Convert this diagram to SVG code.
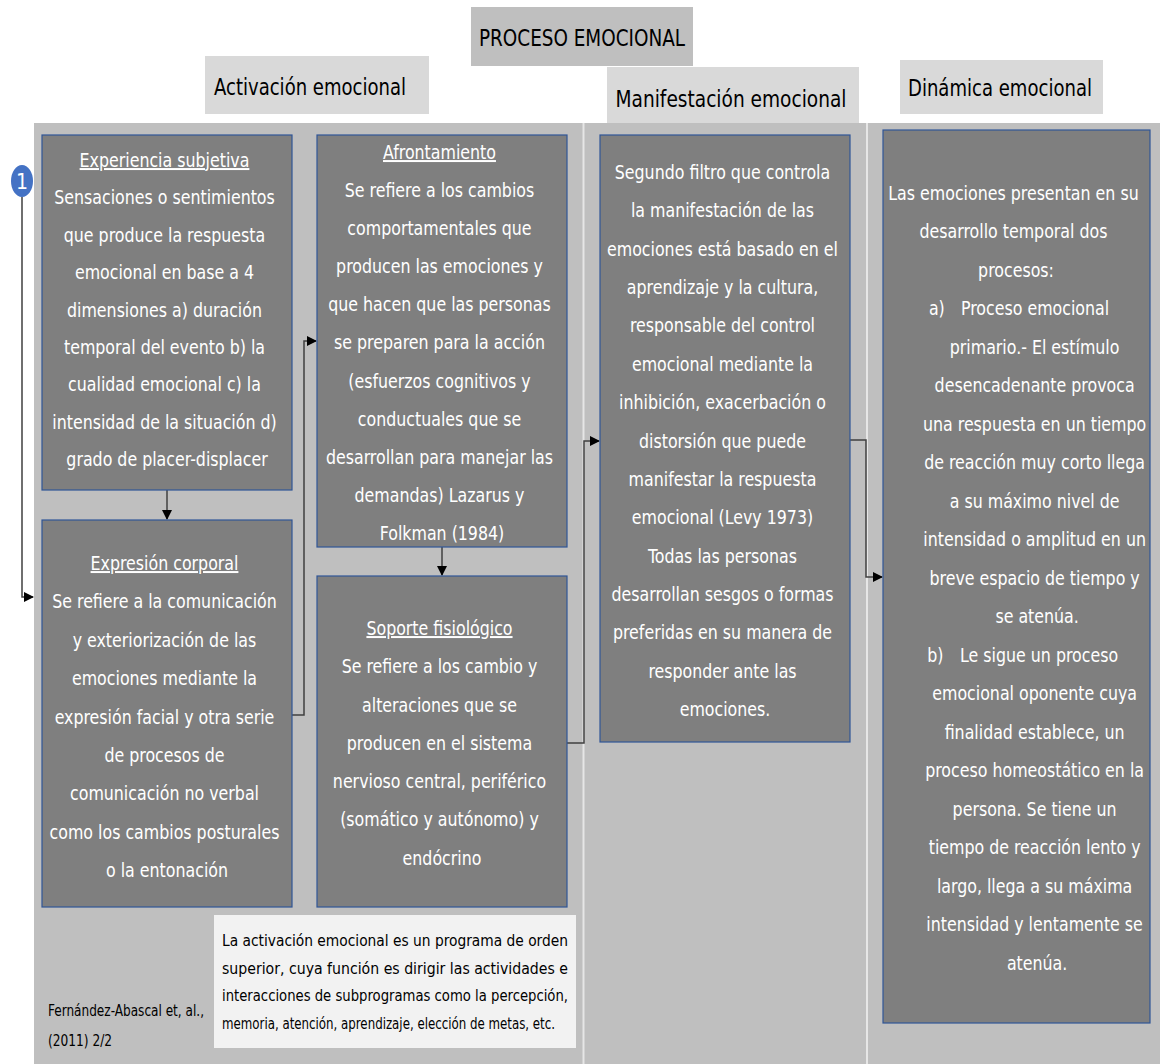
<svg xmlns="http://www.w3.org/2000/svg" width="1160" height="1064" viewBox="0 0 1160 1064">
<defs>
<style>
.hdr{font-family:"DejaVu Sans Condensed","Liberation Sans",sans-serif;font-size:23px;fill:#000;text-anchor:middle}
.box{fill:#7f7f7f;stroke:#2f5597;stroke-width:1.2}
.bt{font-family:"DejaVu Sans Condensed","Liberation Sans",sans-serif;font-size:20px;fill:#fff;text-anchor:middle}
.st{text-anchor:start}
.sm{font-family:"DejaVu Sans Condensed","Liberation Sans",sans-serif;font-size:16px;fill:#000}
.u{text-decoration:underline}
.con{fill:none;stroke:#404040;stroke-width:1.5}
</style>
<marker id="ah" markerWidth="10" markerHeight="10" refX="9" refY="5" orient="auto" markerUnits="userSpaceOnUse">
<path d="M0,0 L10,5 L0,10 Z" fill="#000"/>
</marker>
</defs>
<rect width="1160" height="1064" fill="#fff"/>
<g id="panel">
<rect x="34" y="123" width="1126" height="941" fill="#bfbfbf"/>
<rect x="582.5" y="123" width="2" height="941" fill="#e6e6e6"/>
<rect x="866" y="123" width="2" height="941" fill="#e6e6e6"/>
</g>
<g id="title">
<rect x="471" y="7" width="222" height="59" fill="#bfbfbf"/>
<text class="hdr" x="582" y="46" textLength="206" lengthAdjust="spacingAndGlyphs">PROCESO EMOCIONAL</text>
</g>
<g id="h-activacion">
<rect x="205" y="56" width="224" height="58" fill="#d9d9d9"/>
<text class="hdr" x="310" y="95" font-size="24" textLength="192" lengthAdjust="spacingAndGlyphs">Activación emocional</text>
</g>
<g id="h-manifestacion">
<rect x="607" y="67" width="252" height="56" fill="#d9d9d9"/>
<text class="hdr" x="731" y="107" font-size="24" textLength="231" lengthAdjust="spacingAndGlyphs">Manifestación emocional</text>
</g>
<g id="h-dinamica">
<rect x="900" y="60" width="203" height="54" fill="#d9d9d9"/>
<text class="hdr" x="1000" y="96" font-size="24" textLength="184" lengthAdjust="spacingAndGlyphs">Dinámica emocional</text>
</g>
<g id="connectors">
<path class="con" d="M22,197 V597 H33" stroke="#808080" marker-end="url(#ah)"/>
<path class="con" d="M167,490 V519" marker-end="url(#ah)"/>
<path class="con" d="M292,715 H304 V341 H316" marker-end="url(#ah)"/>
<path class="con" d="M442,547 V575" marker-end="url(#ah)"/>
<path class="con" d="M567,743 H584 V441 H599" marker-end="url(#ah)"/>
<path class="con" d="M850,440 H866 V577 H882" marker-end="url(#ah)"/>
</g>
<g id="marker-1">
<ellipse cx="22" cy="181" rx="11" ry="16" fill="#4472c4"/>
<text x="22" y="189" font-family="DejaVu Sans Condensed,Liberation Sans,sans-serif" font-size="21" fill="#fff" text-anchor="middle">1</text>
</g>
<g id="n-experiencia">
<rect class="box" x="42" y="135" width="250" height="355"/>
<text class="bt" transform="translate(167,0) scale(0.88,1)" y="167">
<tspan x="0" class="u">Experiencia subjetiva</tspan>
<tspan x="0" dy="37.4">Sensaciones o sentimientos</tspan>
<tspan x="0" dy="37.4">que produce la respuesta</tspan>
<tspan x="0" dy="37.4">emocional en base a 4</tspan>
<tspan x="0" dy="37.4">dimensiones a) duración</tspan>
<tspan x="0" dy="37.4">temporal del evento b) la</tspan>
<tspan x="0" dy="37.4">cualidad emocional c) la</tspan>
<tspan x="0" dy="37.4">intensidad de la situación d)</tspan>
<tspan x="0" dy="37.4">grado de placer-displacer</tspan>
</text>
</g>
<g id="n-expresion">
<rect class="box" x="42" y="520" width="250" height="387"/>
<text class="bt" transform="translate(167,0) scale(0.88,1)" y="570">
<tspan x="0" class="u">Expresión corporal</tspan>
<tspan x="0" dy="38.4">Se refiere a la comunicación</tspan>
<tspan x="0" dy="38.4">y exteriorización de las</tspan>
<tspan x="0" dy="38.4">emociones mediante la</tspan>
<tspan x="0" dy="38.4">expresión facial y otra serie</tspan>
<tspan x="0" dy="38.4">de procesos de</tspan>
<tspan x="0" dy="38.4">comunicación no verbal</tspan>
<tspan x="0" dy="38.4">como los cambios posturales</tspan>
<tspan x="0" dy="38.4">o la entonación</tspan>
</text>
</g>
<g id="n-afrontamiento">
<rect class="box" x="317" y="135" width="250" height="412"/>
<text class="bt" transform="translate(442,0) scale(0.88,1)" y="159">
<tspan x="0" class="u">Afrontamiento</tspan>
<tspan x="0" dy="38.1">Se refiere a los cambios</tspan>
<tspan x="0" dy="38.1">comportamentales que</tspan>
<tspan x="0" dy="38.1">producen las emociones y</tspan>
<tspan x="0" dy="38.1">que hacen que las personas</tspan>
<tspan x="0" dy="38.1">se preparen para la acción</tspan>
<tspan x="0" dy="38.1">(esfuerzos cognitivos y</tspan>
<tspan x="0" dy="38.1">conductuales que se</tspan>
<tspan x="0" dy="38.1">desarrollan para manejar las</tspan>
<tspan x="0" dy="38.1">demandas) Lazarus y</tspan>
<tspan x="0" dy="38.1">Folkman (1984)</tspan>
</text>
</g>
<g id="n-soporte">
<rect class="box" x="317" y="576" width="250" height="331"/>
<text class="bt" transform="translate(442,0) scale(0.88,1)" y="635">
<tspan x="0" class="u">Soporte fisiológico</tspan>
<tspan x="0" dy="38.3">Se refiere a los cambio y</tspan>
<tspan x="0" dy="38.3">alteraciones que se</tspan>
<tspan x="0" dy="38.3">producen en el sistema</tspan>
<tspan x="0" dy="38.3">nervioso central, periférico</tspan>
<tspan x="0" dy="38.3">(somático y autónomo) y</tspan>
<tspan x="0" dy="38.3">endócrino</tspan>
</text>
</g>
<g id="n-manifestacion">
<rect class="box" x="600" y="135" width="250" height="607"/>
<text class="bt" transform="translate(725,0) scale(0.88,1)" y="179">
<tspan x="0">Segundo filtro que controla</tspan>
<tspan x="0" dy="38.36">la manifestación de las</tspan>
<tspan x="0" dy="38.36">emociones está basado en el</tspan>
<tspan x="0" dy="38.36">aprendizaje y la cultura,</tspan>
<tspan x="0" dy="38.36">responsable del control</tspan>
<tspan x="0" dy="38.36">emocional mediante la</tspan>
<tspan x="0" dy="38.36">inhibición, exacerbación o</tspan>
<tspan x="0" dy="38.36">distorsión que puede</tspan>
<tspan x="0" dy="38.36">manifestar la respuesta</tspan>
<tspan x="0" dy="38.36">emocional (Levy 1973)</tspan>
<tspan x="0" dy="38.36">Todas las personas</tspan>
<tspan x="0" dy="38.36">desarrollan sesgos o formas</tspan>
<tspan x="0" dy="38.36">preferidas en su manera de</tspan>
<tspan x="0" dy="38.36">responder ante las</tspan>
<tspan x="0" dy="38.36">emociones.</tspan>
</text>
</g>
<g id="n-dinamica">
<rect class="box" x="883" y="130" width="267" height="893"/>
<g transform="translate(1016,0) scale(0.88,1)">
<text class="bt" y="200">
<tspan x="0">Las emociones presentan en su</tspan>
<tspan x="0" dy="38.5">desarrollo temporal dos</tspan>
<tspan x="0" dy="38.5">procesos:</tspan>
</text>
<text class="bt st" x="-99" y="315.5">a)</text>
<text class="bt st" x="-62.5" y="315.5">Proceso emocional</text>
<text class="bt" y="354">
<tspan x="24">primario.- El estímulo</tspan>
<tspan x="24" dy="38.5">desencadenante provoca</tspan>
<tspan x="24" dy="38.5">una respuesta en un tiempo</tspan>
<tspan x="24" dy="38.5">de reacción muy corto llega</tspan>
<tspan x="24" dy="38.5">a su máximo nivel de</tspan>
<tspan x="24" dy="38.5">intensidad o amplitud en un</tspan>
<tspan x="24" dy="38.5">breve espacio de tiempo y</tspan>
<tspan x="24" dy="38.5">se atenúa.</tspan>
</text>
<text class="bt st" x="-101" y="662">b)</text>
<text class="bt st" x="-63.6" y="662">Le sigue un proceso</text>
<text class="bt" y="700.5">
<tspan x="24">emocional oponente cuya</tspan>
<tspan x="24" dy="38.5">finalidad establece, un</tspan>
<tspan x="24" dy="38.5">proceso homeostático en la</tspan>
<tspan x="24" dy="38.5">persona. Se tiene un</tspan>
<tspan x="24" dy="38.5">tiempo de reacción lento y</tspan>
<tspan x="24" dy="38.5">largo, llega a su máxima</tspan>
<tspan x="24" dy="38.5">intensidad y lentamente se</tspan>
<tspan x="24" dy="38.5">atenúa.</tspan>
</text>
</g>
</g>
<g id="n-nota">
<rect x="214" y="915" width="362" height="133" fill="#f2f2f2"/>
<text class="sm" x="222" y="946" textLength="346" lengthAdjust="spacingAndGlyphs">La activación emocional es un programa de orden</text>
<text class="sm" x="222" y="974" textLength="346" lengthAdjust="spacingAndGlyphs">superior, cuya función es dirigir las actividades e</text>
<text class="sm" x="222" y="1001" textLength="346" lengthAdjust="spacingAndGlyphs">interacciones de subprogramas como la percepción,</text>
<text class="sm" x="222" y="1029" textLength="333" lengthAdjust="spacingAndGlyphs">memoria, atención, aprendizaje, elección de metas, etc.</text>
</g>
<g id="cita">
<text class="sm" x="48" y="1016" textLength="156" lengthAdjust="spacingAndGlyphs">Fernández-Abascal et, al.,</text>
<text class="sm" x="48" y="1046" textLength="64" lengthAdjust="spacingAndGlyphs">(2011) 2/2</text>
</g>
</svg>
